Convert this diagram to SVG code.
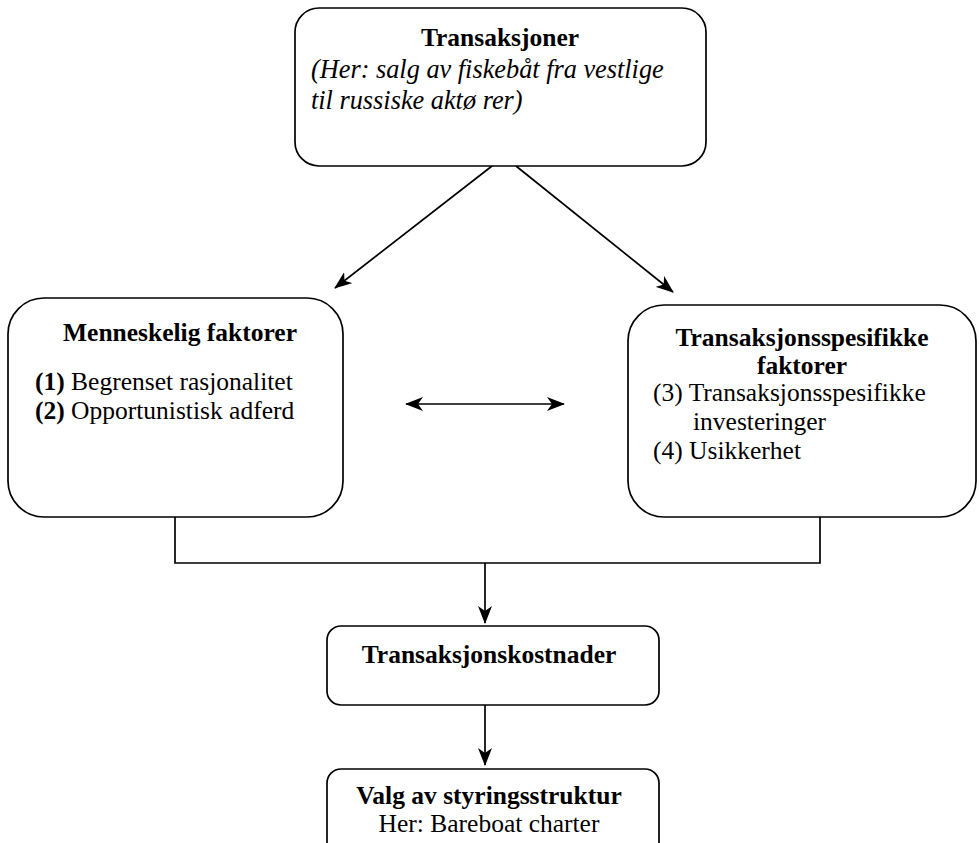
<svg xmlns="http://www.w3.org/2000/svg" width="979" height="843" viewBox="0 0 979 843">
<defs>
<marker id="ah" viewBox="0 0 18 14" refX="17" refY="7" markerWidth="18" markerHeight="14" markerUnits="userSpaceOnUse" orient="auto-start-reverse">
<path d="M0,0 L18,7 L0,14 L5,7 z" fill="#000"/>
</marker>
<style>
.box{fill:#fff;stroke:#000;stroke-width:1.7}
.t{font-family:"Liberation Serif","Times New Roman",serif;font-size:25.5px;fill:#000}
.b{font-weight:bold}
.c{text-anchor:middle}
.i{font-style:italic;font-size:26.3px}
.ln{fill:none;stroke:#000;stroke-width:1.7}
</style>
</defs>
<rect width="979" height="843" fill="#fff"/>
<g id="connectors">
<line class="ln" x1="492" y1="166" x2="335" y2="288" marker-end="url(#ah)"/>
<line class="ln" x1="516" y1="166" x2="673" y2="292" marker-end="url(#ah)"/>
<line class="ln" x1="406" y1="404" x2="564" y2="404" marker-start="url(#ah)" marker-end="url(#ah)"/>
<polyline class="ln" points="175,517 175,563 820,563 820,517"/>
<line class="ln" x1="485" y1="563" x2="485" y2="623" marker-end="url(#ah)"/>
<line class="ln" x1="485" y1="705" x2="485" y2="765" marker-end="url(#ah)"/>
</g>
<g id="transaksjoner">
<rect class="box" x="295" y="8" width="411" height="158" rx="24"/>
<text class="t b c" x="500" y="46">Transaksjoner</text>
<text class="t i" x="311" y="78">(Her: salg av fiskebåt fra vestlige</text>
<text class="t i" x="311" y="109">til russiske aktø rer)</text>
</g>
<g id="menneskelig">
<rect class="box" x="8" y="298" width="335" height="219" rx="36"/>
<text class="t b c" x="180" y="341">Menneskelig faktorer</text>
<text class="t" x="35" y="390"><tspan class="b">(1)</tspan> Begrenset rasjonalitet</text>
<text class="t" x="35" y="419"><tspan class="b">(2)</tspan> Opportunistisk adferd</text>
</g>
<g id="spesifikke">
<rect class="box" x="628" y="305" width="348" height="212" rx="36"/>
<text class="t b c" x="802" y="346">Transaksjonsspesifikke</text>
<text class="t b c" x="802" y="374">faktorer</text>
<text class="t" x="653" y="401">(3) Transaksjonsspesifikke</text>
<text class="t" x="693" y="430">investeringer</text>
<text class="t" x="653" y="459">(4) Usikkerhet</text>
</g>
<g id="kostnader">
<rect class="box" x="327" y="626" width="332" height="79" rx="14"/>
<text class="t b c" x="489" y="663">Transaksjonskostnader</text>
</g>
<g id="styring">
<rect class="box" x="327" y="769" width="332" height="100" rx="14"/>
<text class="t b c" x="489" y="804">Valg av styringsstruktur</text>
<text class="t c" x="489" y="832">Her: Bareboat charter</text>
</g>
</svg>
